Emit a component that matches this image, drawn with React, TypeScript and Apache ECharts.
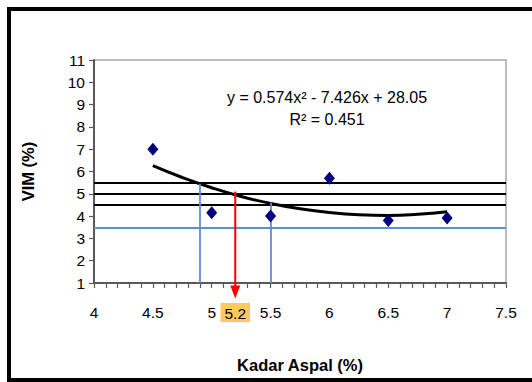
import React, { useEffect, useRef } from 'react';
import * as echarts from 'echarts';

const kadarAspal = [4.5, 5, 5.5, 6, 6.5, 7];
const vim = [7.0, 4.15, 4.0, 5.7, 3.8, 3.92];
const trendX = [4.5, 4.75, 5, 5.25, 5.5, 5.75, 6, 6.25, 6.5, 6.75, 7];
const trendY = [6.26, 5.73, 5.27, 4.88, 4.57, 4.33, 4.16, 4.06, 4.03, 4.08, 4.19];
const blackLevels = [5.5, 5.0, 4.5];
const blueLevel = 3.5;
const blueVerticalX = [4.9, 5.5];
const blueVerticalTop = [5.45, 4.6];
const targetX = 5.2;
const targetTop = 5.1;
const arrowTipValue = 0.31;
const equationText = 'y = 0.574x\u00B2 - 7.426x + 28.05';
const r2Text = 'R\u00B2 = 0.451';

const FONT = '"Liberation Sans", Arial, sans-serif';

export default function App() {
  const ref = useRef<HTMLDivElement>(null);
  useEffect(() => {
    if (!ref.current) return;
    const chart = echarts.init(ref.current, undefined, { renderer: 'svg' });
    const axisColor = '#595959';
    const option: any = {
      animation: false,
      backgroundColor: '#fff',
      grid: { left: 94, right: 26, top: 60, bottom: 99, show: true, borderColor: '#a6a6a6', borderWidth: 1.5 },
      xAxis: {
        type: 'value', min: 4, max: 7.5, interval: 0.5,
        name: 'Kadar Aspal (%)', nameLocation: 'middle', nameGap: 73,
        nameTextStyle: { fontFamily: FONT, fontSize: 16.5, fontWeight: 'bold', color: '#000' },
        axisLine: { show: true, lineStyle: { color: axisColor, width: 2 } },
        axisTick: { show: true, length: 5, lineStyle: { color: axisColor, width: 1.2 } },
        minorTick: { show: true, splitNumber: 5, length: 5, lineStyle: { color: axisColor, width: 1.2 } },
        axisLabel: { fontFamily: FONT, fontSize: 15.5, color: '#000', margin: 21, formatter: (v: number) => String(v) },
        splitLine: { show: false },
      },
      yAxis: {
        type: 'value', min: 1, max: 11, interval: 1,
        name: 'VIM (%)', nameLocation: 'middle', nameGap: 58,
        nameTextStyle: { fontFamily: FONT, fontSize: 16.5, fontWeight: 'bold', color: '#000' },
        axisLine: { show: true, lineStyle: { color: axisColor, width: 2 } },
        axisTick: { show: true, length: 5, lineStyle: { color: axisColor, width: 1.2 } },
        axisLabel: { fontFamily: FONT, fontSize: 15.5, color: '#000', margin: 9 },
        splitLine: { show: false },
      },
      series: [
        {
          type: 'line',
          data: trendX.map((x, i) => [x, trendY[i]]),
          smooth: true,
          showSymbol: false,
          lineStyle: { color: '#000', width: 3 },
          z: 4,
          markLine: {
            silent: true,
            symbol: ['none', 'none'],
            label: { show: false },
            data: [
              ...blackLevels.map((v) => ({ yAxis: v, lineStyle: { color: '#000', width: 1.8, type: 'solid' } })),
              { yAxis: blueLevel, lineStyle: { color: '#5b8ed6', width: 1.8, type: 'solid' } },
              ...blueVerticalX.map((x, i) => [
                { coord: [x, 1], lineStyle: { color: '#5b8ed6', width: 1.8, type: 'solid' } },
                { coord: [x, blueVerticalTop[i]] },
              ]),
            ],
          },
        },
        {
          type: 'scatter',
          data: kadarAspal.map((x, i) => [x, vim[i]]),
          symbol: 'diamond',
          symbolSize: [11, 13],
          itemStyle: { color: '#000080', opacity: 1 },
          z: 5,
        },
      ],
    };
    chart.setOption(option);

    const top = chart.convertToPixel({ gridIndex: 0 }, [targetX, targetTop]) as number[];
    const tip = chart.convertToPixel({ gridIndex: 0 }, [targetX, arrowTipValue]) as number[];
    const base = chart.convertToPixel({ gridIndex: 0 }, [targetX, 1]) as number[];
    const headLen = 13;
    chart.setOption({
      graphic: [
        {
          type: 'rect', silent: true, z: 100,
          shape: { x: 9, y: 9, width: 600, height: 371 },
          style: { fill: 'none', stroke: '#000', lineWidth: 4 },
        },
        {
          type: 'line', silent: true, z: 50,
          shape: { x1: top[0], y1: top[1], x2: tip[0], y2: tip[1] - headLen + 1 },
          style: { stroke: '#ff0000', lineWidth: 2 },
        },
        {
          type: 'polygon', silent: true, z: 50,
          shape: { points: [[tip[0] - 5, tip[1] - headLen], [tip[0] + 5, tip[1] - headLen], [tip[0], tip[1]]] },
          style: { fill: '#ff0000' },
        },
        {
          type: 'text', silent: true, z: 50,
          x: base[0], y: base[1] + 20,
          style: {
            text: String(targetX), fontFamily: FONT, fontSize: 15.5, fill: '#000',
            align: 'center', verticalAlign: 'top',
            backgroundColor: '#ffc95e', padding: [2, 4, 1, 4],
          },
        },
        {
          type: 'text', silent: true, z: 50, x: 327, y: 97,
          style: { text: equationText, fontFamily: FONT, fontSize: 16, fill: '#000', align: 'center', verticalAlign: 'middle' },
        },
        {
          type: 'text', silent: true, z: 50, x: 327, y: 119,
          style: { text: r2Text, fontFamily: FONT, fontSize: 16, fill: '#000', align: 'center', verticalAlign: 'middle' },
        },
      ],
    });
    return () => chart.dispose();
  }, []);
  return <div ref={ref} style={{ position: 'fixed', left: 0, top: 0, width: 532, height: 382 }} />;
}
